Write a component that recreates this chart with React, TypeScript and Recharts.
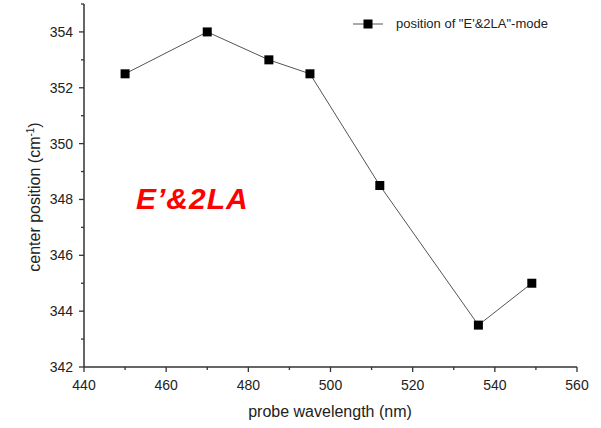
import { LineChart, Line, XAxis, YAxis } from 'recharts'

const wavelengths = [450, 470, 485, 495, 512, 536, 549]
const positions = [352.5, 354, 353, 352.5, 348.5, 343.5, 345]

const xMajor = [440, 460, 480, 500, 520, 540, 560]
const xMinor = [450, 470, 490, 510, 530, 550]
const yMajor = [342, 344, 346, 348, 350, 352, 354]
const yMinor = [343, 345, 347, 349, 351, 353, 355]

const data = wavelengths.map((w, i) => ({ wavelength: w, position: positions[i] }))

const FONT = '"Liberation Sans", Arial, sans-serif'
const AXIS = '#333'

const XTick = (props: any) => {
  const { x, y, payload } = props
  const major = xMajor.includes(payload.value)
  return (
    <g>
      <line x1={x} x2={x} y1={y} y2={y + (major ? 5 : 3)} stroke={AXIS} strokeWidth={1.3} />
      {major && (
        <text x={x} y={y + 23} textAnchor='middle' fontSize={14} fill='#222' fontFamily={FONT}>
          {payload.value}
        </text>
      )}
    </g>
  )
}

const YTick = (props: any) => {
  const { x, y, payload } = props
  const major = yMajor.includes(payload.value)
  return (
    <g>
      <line x1={x - (major ? 5 : 3)} x2={x} y1={y} y2={y} stroke={AXIS} strokeWidth={1.3} />
      {major && (
        <text x={x - 11} y={y + 5} textAnchor='end' fontSize={14} fill='#222' fontFamily={FONT}>
          {payload.value}
        </text>
      )}
    </g>
  )
}

const YTitle = () => (
  <text
    x={40}
    y={197}
    transform='rotate(-90 40 197)'
    textAnchor='middle'
    fontSize={16}
    fill='#222'
    fontFamily={FONT}
  >
    center position (cm
    <tspan dy={-6} fontSize={10}>-1</tspan>
    <tspan dy={6}>)</tspan>
  </text>
)

const XTitle = () => (
  <text x={330} y={417} textAnchor='middle' fontSize={16} fill='#222' fontFamily={FONT}>
    probe wavelength (nm)
  </text>
)

const Square = (props: any) => {
  const { cx, cy } = props
  return <rect x={cx - 4.5} y={cy - 4.5} width={9} height={9} fill='#000' />
}

export default function App() {
  return (
    <div style={{ position: 'absolute', left: 0, top: 0, width: 601, height: 428, background: '#fff' }}>
      <LineChart width={601} height={428} data={data} margin={{ top: 4, right: 24, bottom: 0, left: 0 }}>
        <XAxis
          dataKey='wavelength'
          type='number'
          domain={[440, 560]}
          ticks={[...xMajor, ...xMinor].sort((a, b) => a - b)}
          interval={0}
          tick={<XTick />}
          tickLine={false}
          tickSize={0}
          tickMargin={0}
          height={61}
          axisLine={{ stroke: AXIS, strokeWidth: 1.5 }}
          label={<XTitle />}
        />
        <XAxis
          xAxisId='top'
          orientation='top'
          dataKey='wavelength'
          type='number'
          domain={[440, 560]}
          tick={false}
          tickLine={false}
          height={0}
          axisLine={{ stroke: AXIS, strokeWidth: 1.5 }}
        />
        <YAxis
          type='number'
          domain={[342, 355]}
          ticks={[...yMajor, ...yMinor].sort((a, b) => a - b)}
          interval={0}
          tick={<YTick />}
          tickLine={false}
          tickSize={0}
          tickMargin={0}
          width={84}
          axisLine={{ stroke: AXIS, strokeWidth: 1.5 }}
          label={<YTitle />}
        />
        <YAxis
          yAxisId='right'
          orientation='right'
          type='number'
          domain={[342, 355]}
          tick={false}
          tickLine={false}
          width={0}
          axisLine={{ stroke: AXIS, strokeWidth: 1.5 }}
        />
        <Line
          dataKey='position'
          stroke='#555'
          strokeWidth={1}
          dot={<Square />}
          activeDot={false}
          isAnimationActive={false}
        />
      </LineChart>
      <div
        style={{
          position: 'absolute',
          left: 353,
          top: 16,
          display: 'flex',
          alignItems: 'center',
          fontFamily: FONT,
          fontSize: 13,
          color: '#222',
          whiteSpace: 'nowrap',
        }}
      >
        <svg width={30} height={12} style={{ marginRight: 13 }}>
          <line x1={0} x2={30} y1={6} y2={6} stroke='#555' strokeWidth={1} />
          <rect x={10.5} y={1.5} width={9} height={9} fill='#000' />
        </svg>
        position of "E'&2LA"-mode
      </div>
      <div
        style={{
          position: 'absolute',
          left: 136,
          top: 182,
          fontFamily: FONT,
          fontSize: 30,
          fontWeight: 'bold',
          fontStyle: 'italic',
          letterSpacing: 1,
          color: '#ff0000',
          whiteSpace: 'nowrap',
        }}
      >
        E’&2LA
      </div>
    </div>
  )
}
